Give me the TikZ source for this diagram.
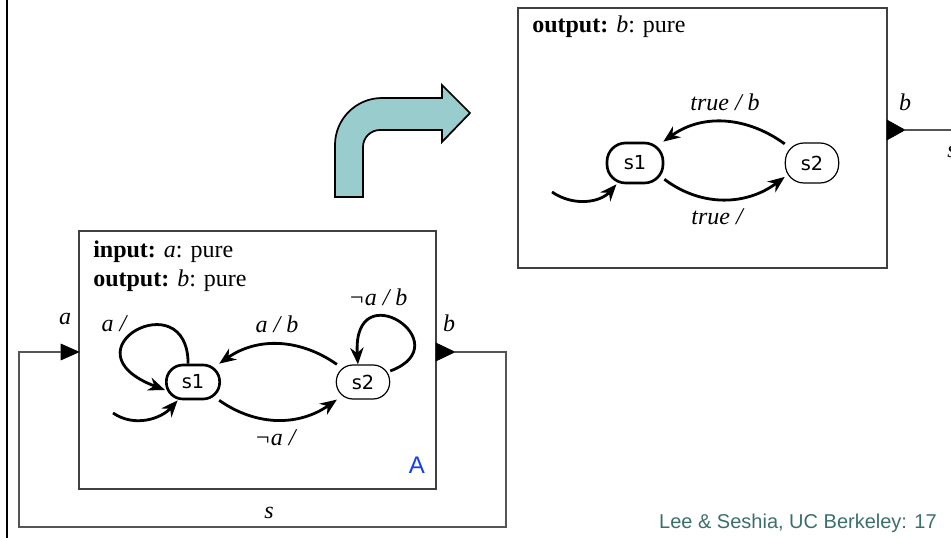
\documentclass[tikz,border=0pt]{standalone}
\usepackage{fontspec}
\setmainfont{Liberation Serif}
\newfontfamily\sansfont{Liberation Sans}
\newfontfamily\statefont{DejaVu Sans}
\usetikzlibrary{arrows.meta,shapes.misc}
\definecolor{arrowfill}{RGB}{153,204,204}
\definecolor{footer}{RGB}{60,110,110}
\definecolor{blueA}{RGB}{20,60,240}
\definecolor{boxgray}{RGB}{64,64,64}
\definecolor{wiregray}{RGB}{85,85,85}
\begin{document}
\begin{tikzpicture}[x=0.75pt,y=0.75pt,
 box/.style={draw=boxgray, line width=1.1pt, inner sep=0pt, rectangle},
 stateA/.style={draw, rectangle, rounded corners=12.5pt, font=\statefont\fontsize{14.5}{17}\selectfont, inner sep=0pt},
 thickstate/.style={stateA, line width=2pt},
 thinstate/.style={stateA, line width=0.9pt},
 trans/.style={line width=2.1pt, -{Stealth[length=12.5pt,width=10pt,inset=4pt]}},
 lbl/.style={font=\fontsize{18}{21.6}\selectfont\itshape, inner sep=0pt},
 hdr/.style={font=\fontsize{18}{21.6}\selectfont, inner sep=0pt, anchor=base west},
 wire/.style={draw=wiregray, line width=1.1pt},
 port/.style={fill=black, draw=black, line width=0.4pt, line join=miter},
]
\useasboundingbox (0,0) rectangle (951,-538);

% left edge line
\draw[line width=1.8pt] (7,0) -- (7,-538);

% ---------- big bent arrow ----------
\draw[fill=arrowfill, line width=1.3pt, line join=miter]
  (335,-197) -- (335,-145) arc[start angle=180, end angle=90, radius=35.25pt]
  -- (442,-98) -- (442,-85) -- (470,-113) -- (442,-142) -- (442,-130)
  -- (380,-130) arc[start angle=90, end angle=180, radius=12.75pt]
  -- (363,-197) -- cycle;

% ---------- bottom machine A ----------
\node[box, minimum width=267.75pt, minimum height=193.5pt] (A) at (257.5,-360) {};
\node[hdr] (Ahdr1) at (93,-258) {\textbf{input:} \textit{a}: pure};
\node[hdr] (Ahdr2) at (93,-287) {\textbf{output:} \textit{b}: pure};
\node[font=\sansfont\fontsize{18}{20}\selectfont, text=blueA, inner sep=0pt] (Aname) at (417,-465) {A};

\node[thickstate, minimum width=40pt, minimum height=25.5pt] (s1) at (193,-382) {s1};
\node[thinstate, minimum width=40pt, minimum height=25.5pt] (s2) at (363,-382) {s2};

\coordinate (init1) at (113,-413);
\draw[trans] (init1) .. controls +(22,-15) and +(-16,-18) .. (s1.-130);
\draw[trans] (s1.105) .. controls +(0,83) and +(-105,40) .. (s1.196);
\draw[trans] (s2.146) to[out=145, in=35] (s1.35);
\draw[trans] (s1.-35) to[out=-35, in=-145] (s2.-146);
\draw[trans] (s2.22) .. controls +(72,27) and +(-6,94) .. (s2.106);

\node[lbl] (l1) at (114,-324) {a /};
\node[lbl] (l2) at (277,-324) {a / b};
\node[lbl] (l3) at (378,-297) {¬a / b};
\node[lbl] (l4) at (275,-438) {¬a /};

% ports and feedback wire
\fill[port] (61,-344) -- (79,-352) -- (61,-360) -- cycle;
\fill[port] (436,-343) -- (455,-352) -- (436,-361) -- cycle;
\coordinate (Ain) at (61,-352);
\coordinate (Aout) at (455,-352);
\draw[wire] (Aout) -- (506,-352) |- (19,-527) |- (Ain);
\node[lbl] (pa) at (65,-319) {a};
\node[lbl] (pb) at (449,-323) {b};
\node[lbl] (ps) at (269,-513) {s};

% ---------- top machine ----------
\node[box, minimum width=276.75pt, minimum height=195pt] (B) at (702.5,-138) {};
\node[hdr] (Bhdr) at (532,-33) {\textbf{output:} \textit{b}: pure};
\node[thickstate, minimum width=42pt, minimum height=30pt, rounded corners=14pt] (t1) at (635,-163) {s1};
\node[thinstate, minimum width=40pt, minimum height=30pt, rounded corners=14pt] (t2) at (812,-163) {s2};

\coordinate (init2) at (552,-192);
\draw[trans] (init2) .. controls +(22,-15) and +(-16,-18) .. (t1.-131);
\draw[trans] (t2.145) to[out=144, in=36] (t1.37);
\draw[trans] (t1.-29) to[out=-37, in=-143] (t2.-153);
\node[lbl] (m1) at (725,-102) {true / b};
\node[lbl] (m2) at (717,-217) {true /};

\fill[port] (887,-120) -- (905,-130) -- (887,-140) -- cycle;
\coordinate (Bout) at (905,-130);
\coordinate (Bend) at (960,-130);
\draw[wire] (Bout) -- (Bend);
\node[lbl] (qb) at (905,-102) {b};
\node[lbl] (qs) at (952,-152) {s};

% footer
\node[font=\sansfont\fontsize{15}{18}\selectfont, text=footer, anchor=east, inner sep=0pt] (foot) at (937,-523) {Lee \& Seshia, UC Berkeley: 17};
\end{tikzpicture}
\end{document}
